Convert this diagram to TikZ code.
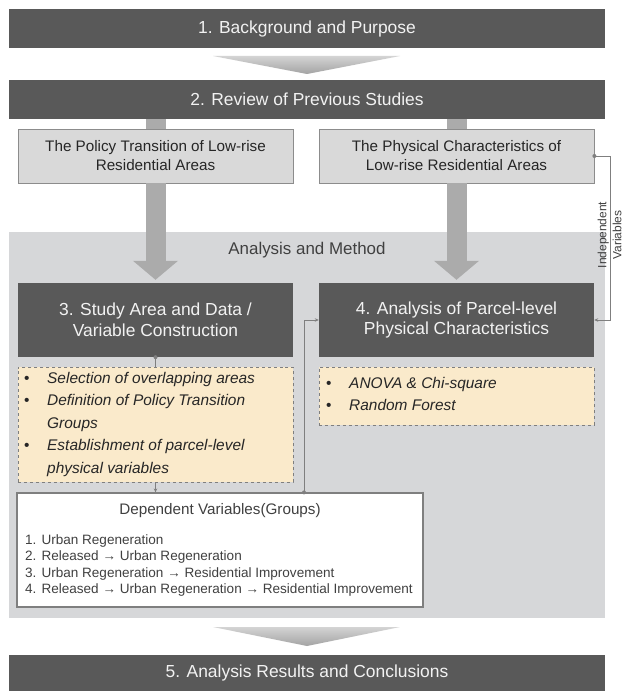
\documentclass[tikz,border=0pt]{standalone}
\usepackage{fontspec}
\setmainfont{Liberation Sans}
\usetikzlibrary{arrows.meta,calc}
\definecolor{darkbox}{HTML}{595959}
\definecolor{lighttext}{HTML}{F2F2F2}
\definecolor{subfill}{HTML}{D9D9D9}
\definecolor{subedge}{HTML}{8C8C8C}
\definecolor{stubcol}{HTML}{ABABAB}
\definecolor{regioncol}{HTML}{D6D7D9}
\definecolor{yellowfill}{HTML}{FAEACB}
\definecolor{linecol}{HTML}{7F7F7F}
\definecolor{txtdark}{HTML}{262626}
\definecolor{txtmid}{HTML}{404040}
\begin{document}
\begin{tikzpicture}[x=1bp,y=-1bp,
  darkbox/.style={fill=darkbox, text=lighttext, inner sep=0pt, align=center,
    font=\fontsize{17.5}{21}\selectfont},
  subbox/.style={fill=subfill, draw=subedge, line width=0.8bp, inner sep=0pt, align=center,
    text=txtdark, font=\fontsize{15.3}{19}\selectfont, minimum width=275bp, minimum height=54bp},
  ybox/.style={fill=yellowfill, draw=linecol, dashed, line width=0.6bp, inner sep=0pt,
    minimum width=275bp},
  ytext/.style={inner sep=0pt, align=left, text=txtdark, font=\fontsize{15.5}{22.5}\selectfont\itshape},
  conn/.style={draw=linecol, line width=0.8bp},
  tipsmall/.style={-{Stealth[length=4bp,width=3.5bp]}},
  dotc/.style={fill=linecol},
  bigarrow/.style={draw=stubcol, line width=20bp, -{Triangle[width=44bp,length=19bp]}},
]
\useasboundingbox (0,0) rectangle (623,691);
\fill[white] (0,0) rectangle (623,691);

% main boxes
\node[darkbox, minimum width=596bp, minimum height=39bp] (b1) at (307,28.5) {1. Background and Purpose};
\node[darkbox, minimum width=596bp, minimum height=39bp] (b2) at (307,99.5) {2. Review of Previous Studies};

% chevron
\shade[top color=black!17, bottom color=black!36] (213,56) -- (400,56) -- (307,74) -- cycle;

% sub boxes
\node[subbox] (p1) at (155.5,156) {The Policy Transition of Low-rise\\Residential Areas};
\node[subbox] (p2) at (456.5,156) {The Physical Characteristics of\\Low-rise Residential Areas};

% stubs
\fill[stubcol] ([xshift=-10bp]p1.north) rectangle ([xshift=10bp]p1.north |- b2.south);
\fill[stubcol] ([xshift=-10bp]p2.north) rectangle ([xshift=10bp]p2.north |- b2.south);

% region
\node[fill=regioncol, inner sep=0pt, minimum width=596bp, minimum height=386bp] (reg) at (307,425) {};
\draw[white, line width=1bp] (reg.north west) -- (reg.north east);
\node[text=txtmid, inner sep=0pt, font=\fontsize{17}{21}\selectfont] (am) at (307,250) {Analysis and Method};

% boxes 3,4
\node[darkbox, minimum width=275bp, minimum height=74bp] (b3) at (155.5,320) {3. Study Area and Data /\\Variable Construction};
\node[darkbox, minimum width=275bp, minimum height=74bp] (b4) at (456.5,320) {4. Analysis of Parcel-level\\Physical Characteristics};

% big arrows
\draw[bigarrow] (p1.south) -- ([yshift=3bp]b3.north);
\draw[bigarrow] (p2.south) -- ([yshift=3bp]b4.north);

% yellow boxes
\node[ybox, minimum height=115bp] (y1) at (155.5,424.5) {};
\node[ytext, anchor=north west] (y1t) at (24,372) {%
\makebox[23bp][l]{\upshape\textbullet}Selection of overlapping areas\\
\makebox[23bp][l]{\upshape\textbullet}Definition of Policy Transition\\
\hspace*{23bp}Groups\\
\makebox[23bp][l]{\upshape\textbullet}Establishment of parcel-level\\
\hspace*{23bp}physical variables};
\node[ybox, minimum height=58bp] (y2) at (456.5,396) {};
\node[ytext, anchor=north west] (y2t) at (326,377) {%
\makebox[23bp][l]{\upshape\textbullet}ANOVA \& Chi-square\\
\makebox[23bp][l]{\upshape\textbullet}Random Forest};

% dependent box
\node[fill=white, draw=linecol, line width=1.2bp, inner sep=0pt, minimum width=406bp, minimum height=114bp] (dep) at (220,550) {};
\node[text=txtmid, inner sep=0pt, font=\fontsize{15.3}{18}\selectfont] (dept) at (220,511) {Dependent Variables(Groups)};
\node[text=txtmid, inner sep=0pt, anchor=north west, align=left, font=\fontsize{13.6}{16.5}\selectfont] (depl) at (25,534.5) {%
1. Urban Regeneration\\
2. Released → Urban Regeneration\\
3. Urban Regeneration → Residential Improvement\\
4. Released → Urban Regeneration → Residential Improvement};

% connectors
\draw[conn] (b3.south) -- (y1.north);
\fill[dotc] (b3.south) circle (2bp);
\draw[conn, tipsmall] (y1.south) -- (y1.south |- dep.north);
\coordinate (c1) at (304,0);
\draw[conn, tipsmall] (c1 |- dep.north) -- (c1 |- b4.west) -- (b4.west);
\fill[dotc] (c1 |- dep.north) circle (2bp);
\coordinate (c2) at (610,0);
\draw[conn, tipsmall] (p2.east) -- (c2 |- p2.east) -- (c2 |- b4.east) -- (b4.east);
\fill[dotc] (p2.east) circle (2bp);
\node[rotate=90, align=center, inner sep=0pt, text=txtmid, font=\fontsize{12}{15}\selectfont] (iv) at (609.5,235) {Independent\\Variables};

% bottom chevron and box 5
\shade[top color=black!17, bottom color=black!36] (213,627) -- (400,627) -- (307,646) -- cycle;
\node[darkbox, minimum width=596bp, minimum height=36bp] (b5) at (307,673) {5. Analysis Results and Conclusions};
\end{tikzpicture}
\end{document}
